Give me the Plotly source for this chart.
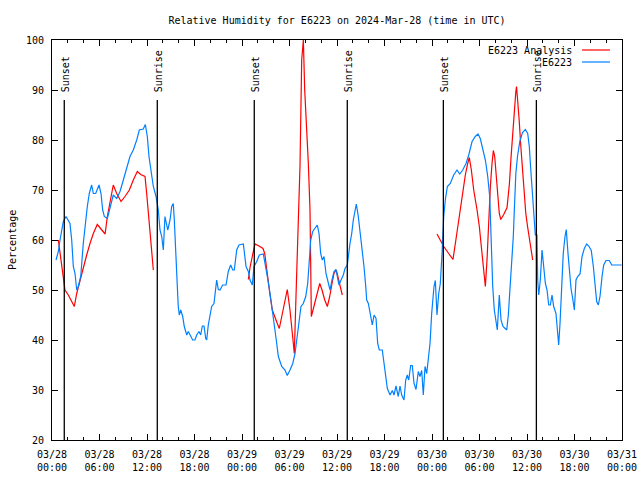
import pandas as pd
import plotly.graph_objects as go

# ---------------- data ----------------
START = "2024-03-28 00:00"
END = "2024-03-31 00:00"

# E6223 observations: hours since START, relative humidity (%)
obs_hours = [0.51, 0.80, 1.01, 1.43, 1.77, 2.27, 2.49, 2.69, 2.91, 3.12, 3.32, 3.63, 3.95, 4.17,
             4.46, 4.71, 5.01, 5.22, 5.52, 5.94, 6.19, 6.40, 6.61, 6.99, 7.33, 7.74, 8.17, 8.59,
             9.01, 9.44, 9.85, 10.27, 10.70, 11.03, 11.53, 11.79, 12.04, 12.25, 12.51, 12.80,
             13.14, 13.43, 13.64, 13.86, 14.06, 14.27, 14.62, 14.91, 15.12, 15.32, 15.45, 15.66,
             15.83, 15.95, 16.08, 16.26, 16.51, 16.71, 17.02, 17.22, 17.52, 17.77, 18.06, 18.28,
             18.57, 18.78, 18.99, 19.20, 19.42, 19.54, 19.74, 19.96, 20.17, 20.46, 20.68, 20.80,
             21.01, 21.22, 21.56, 21.98, 22.27, 22.57, 22.83, 23.03, 23.33, 23.62, 24.17, 24.29,
             24.51, 24.80, 25.01, 25.30, 25.52, 25.86, 26.19, 26.69, 27.00, 27.20, 27.54, 27.83,
             28.13, 28.33, 28.59, 29.02, 29.43, 29.72, 30.06, 30.41, 30.70, 30.91, 31.24, 31.45,
             31.74, 32.05, 32.30, 32.46, 32.68, 32.93, 33.22, 33.51, 33.73, 33.94, 34.14, 34.36,
             34.61, 34.90, 35.12, 35.37, 35.62, 35.87, 36.09, 36.25, 36.51, 36.80, 37.01, 37.30,
             37.64, 37.86, 38.06, 38.28, 38.44, 38.69, 39.00, 39.25, 39.41, 39.63, 39.75, 39.96,
             40.26, 40.46, 40.68, 40.93, 41.14, 41.34, 41.72, 41.94, 42.15, 42.36, 42.70, 42.99,
             43.20, 43.45, 43.74, 43.96, 44.17, 44.46, 44.68, 44.88, 45.06, 45.31, 45.51, 45.73,
             45.98, 46.27, 46.48, 46.70, 46.90, 47.12, 47.33, 47.53, 47.75, 47.96, 48.25, 48.42,
             48.63, 48.85, 49.05, 49.27, 49.48, 49.68, 49.94, 50.31, 50.74, 51.16, 51.50, 51.88,
             52.30, 52.64, 53.06, 53.47, 53.81, 54.10, 54.41, 54.74, 55.04, 55.29, 55.46, 55.67,
             55.87, 56.09, 56.25, 56.50, 56.72, 56.97, 57.26, 57.44, 57.64, 57.86, 58.07, 58.27,
             58.40, 58.59, 58.80, 59.09, 59.43, 59.79, 60.09, 60.29, 60.51, 60.72, 60.92, 61.05,
             61.26, 61.35, 61.48, 61.68, 61.90, 62.07, 62.32, 62.53, 62.74, 62.95, 63.16, 63.37,
             63.66, 63.88, 64.00, 64.17, 64.38, 64.58, 64.80, 64.96, 65.18, 65.35, 65.56, 65.77,
             65.98, 66.19, 66.40, 66.70, 66.95, 67.24, 67.54, 67.80, 68.12, 68.38, 68.59, 68.80,
             69.01, 69.22, 69.48, 69.69, 69.98, 70.40, 70.70, 71.96]
obs_rh = [56, 57.7, 60, 63.7, 64.7, 63.3, 60, 54.7, 53.3, 50, 50.7, 52.7, 59.3, 62.7,
          66.7, 69.3, 71, 69.3, 69.3, 71, 69.3, 66, 64.7, 64.3, 66.7, 69, 68.3, 69.7,
          72, 74.7, 76.7, 78, 80, 82, 82.2, 83.1, 80.7, 76.7, 73.3, 70.7,
          68.7, 66, 62, 60.7, 58, 64.7, 62, 64, 66.7, 67.3, 64, 58,
          50.7, 46.7, 45, 46, 44.7, 42.7, 41, 41.7, 40.7, 40, 40, 41,
          41.7, 41, 42.8, 42.8, 40.3, 40, 43, 45.3, 46.7, 47.3, 51.3, 52,
          50.1, 50, 51, 51, 53.7, 55, 54, 54, 58, 59, 59.2, 57.3,
          54.7, 53.7, 52, 51, 54.7, 55.7, 57, 57.2, 54.7, 52.7, 49.3, 46,
          43.3, 40, 36.7, 34.7, 34, 32.9, 34, 35.3, 37.3, 40, 43.3, 46.7,
          47.3, 48.7, 51.3, 54.7, 60, 61.7, 62.3, 63, 61.3, 57.3, 56, 56.7,
          53.3, 51, 50, 52, 53.7, 54.1, 52, 51, 52, 53, 54.3, 55,
          59.3, 61.3, 64, 66.3, 67.2, 64.7, 60.7, 58, 54.7, 50.7, 48, 47.3,
          44.7, 43, 45, 44.3, 39.3, 38, 38, 35.3, 32.7, 30.3, 29, 29.9,
          29, 30.8, 28.7, 30.8, 29, 28, 32, 33, 32, 34.9, 34.9, 31.3,
          30.1, 33.7, 32.7, 33.9, 29, 34.7, 33.3, 36.3, 39.3, 45.3, 50.7, 51.9,
          45, 49.3, 51.3, 57.3, 64.7, 68, 70.7, 71.3, 73, 74, 73.2, 74,
          75.3, 77, 79.7, 80.7, 81.2, 80.3, 78.3, 76, 72.7, 68.7, 60.7, 50.7,
          46, 43.3, 42, 49, 44, 42.7, 42.3, 42, 45, 50.3, 55.3, 60.7,
          66, 73.3, 76.7, 79.7, 81.5, 82.1, 81.3, 78.7, 73.3, 68, 64, 61,
          61, 52, 49, 52, 58, 54.7, 51.3, 50, 47, 47, 49, 46.7,
          45.3, 41.3, 39, 43.3, 50, 57.3, 60.7, 62.1, 57.3, 53.3, 50.3, 48.3,
          46, 52, 52.7, 53.2, 56.7, 58.3, 59.2, 58.8, 57.9, 54.7, 50.3, 47.7,
          47, 48.7, 52.7, 55, 55.9, 55.9, 55, 55]

# E6223 Analysis: hours since START, RH (%); None marks a gap
ana_hours = [0.80, 1.01, 1.35, 1.64, 2.06, 2.49, 2.82, 3.12, 3.54, 3.95, 4.38, 4.80, 5.22, 5.72,
             6.15, 6.71, 6.99, 7.33, 7.74, 8.17, 8.72, 9.22, 9.77, 10.27, 10.78, 11.20, 11.75,
             11.96, 12.16, 12.38, 12.59, 12.80,
             None,
             24.80, 25.01, 25.30, 25.52, 25.64, 26.15, 26.65, 26.87, 27.07, 27.29, 27.54, 27.83,
             28.17, 28.46, 28.71, 29.02, 29.31, 29.72, 30.06, 30.36, 30.61, 30.82, 31.08, 31.33,
             31.54, 31.75, 31.92, 32.17, 32.38, 32.59, 32.76, 32.97, 33.18, 33.51, 33.82, 34.11,
             34.45, 34.78, 35.08, 35.37, 35.62, 35.91, 36.21, 36.47, 36.67,
             None,
             48.63, 49.05, 49.48, 50.11, 50.65, 50.95, 51.29, 51.58, 51.92, 52.21, 52.51, 52.71,
             52.97, 53.27, 53.69, 53.98, 54.23, 54.45, 54.66, 54.74, 54.95, 55.17, 55.37, 55.58,
             55.75, 55.92, 56.09, 56.34, 56.50, 56.68, 57.06, 57.48, 57.78, 57.99, 58.20, 58.40,
             58.59, 58.68, 58.80, 59.01, 59.22, 59.43, 59.64, 59.85, 60.07, 60.27, 60.48, 60.72]
ana_rh = [60, 57.3, 53.3, 50, 49, 47.7, 46.7, 49.3, 52, 54.7, 57, 59.3, 61.3, 63.1,
          62.3, 61.2, 64.7, 67.3, 71, 69.3, 67.7, 68.7, 70, 72, 73.7, 73.1, 72.7,
          69.3, 65.3, 61.3, 57.3, 54,
          None,
          52.1, 54.5, 56.7, 58.7, 59.2, 58.8, 58.3, 57.3, 54.7, 51.7, 49, 46,
          44.3, 43.3, 42.3, 44.7, 47.3, 50.1, 46, 41, 37.3, 48.7, 64.7, 75,
          96, 100, 90, 82.7, 75.3, 66, 44.7, 46, 47.3, 49.3, 51.3, 50,
          48, 46.7, 48.7, 51.3, 53.3, 54, 52, 50.3, 49,
          None,
          61.2, 60, 58.7, 57.3, 56.1, 59.3, 63.3, 66.7, 70, 73, 75.3, 76.5,
          74, 70, 66, 62.7, 58.7, 55.3, 52, 50.7, 56, 64.7, 70.7, 75.3,
          77.9, 76.7, 72.7, 68, 65.3, 64.1, 65.1, 66.5, 71.3, 76.7, 82, 86,
          89.7, 90.7, 88.7, 84, 78.7, 74, 69.3, 65.3, 62.7, 60.7, 58.3, 56]

# Sun events (UTC)
sun_labels = ["Sunset", "Sunrise", "Sunset", "Sunrise", "Sunset", "Sunrise"]
sun_times = ["2024-03-28 01:33", "2024-03-28 13:18", "2024-03-29 01:33",
             "2024-03-29 13:18", "2024-03-30 01:26", "2024-03-30 13:11"]
sun_line_top = 88

tick_times = pd.date_range(START, END, freq="6h")
tick_text = [t.strftime("%m/%d") + "<br>" + t.strftime("%H:%M") for t in tick_times]
y_ticks = [20, 30, 40, 50, 60, 70, 80, 90, 100]

title_text = "Relative Humidity for E6223 on 2024-Mar-28 (time in UTC)"
series_names = ["E6223 Analysis", "E6223"]
series_colors = ["#ff0000", "#0080ff"]

# ---------------- build ----------------
base = pd.Timestamp(START)
def to_time(h):
    return None if h is None else base + pd.Timedelta(hours=h)

FONT = "DejaVu Sans Mono"

fig = go.Figure()
fig.add_trace(go.Scatter(x=[to_time(h) for h in ana_hours], y=ana_rh, mode="lines",
                         name=series_names[0], connectgaps=False,
                         line=dict(color=series_colors[0], width=1.2), showlegend=False))
fig.add_trace(go.Scatter(x=[to_time(h) for h in obs_hours], y=obs_rh, mode="lines",
                         name=series_names[1],
                         line=dict(color=series_colors[1], width=1.2), showlegend=False))

for lab, t in zip(sun_labels, sun_times):
    fig.add_shape(type="line", x0=t, x1=t, y0=20, y1=sun_line_top, xref="x", yref="y",
                  line=dict(color="black", width=1.3))
    fig.add_annotation(x=t, y=sun_line_top, xref="x", yref="y", text=lab, textangle=-90,
                       showarrow=False, xanchor="center", yanchor="bottom", yshift=6,
                       xshift=1, font=dict(family=FONT, size=10, color="black"))

# manual gnuplot-style key (text left, sample right)
key_rows = [0.975, 0.945]
for name, color, yk in zip(series_names, series_colors, key_rows):
    fig.add_annotation(x=0.9158, y=yk, xref="paper", yref="paper", text=name,
                       showarrow=False, xanchor="right", yanchor="middle",
                       font=dict(family=FONT, size=10, color="black"))
    fig.add_shape(type="line", x0=0.9298, x1=0.9789, y0=yk, y1=yk, xref="paper",
                  yref="paper", line=dict(color=color, width=1.2))

fig.add_annotation(x=-0.0702, y=0.5, xref="paper", yref="paper", text="Percentage",
                   textangle=-90, showarrow=False, xanchor="center", yanchor="middle",
                   font=dict(family=FONT, size=10, color="black"))

fig.update_layout(
    width=640, height=480,
    margin=dict(l=52, r=18, t=40, b=40, autoexpand=False),
    paper_bgcolor="white", plot_bgcolor="white",
    font=dict(family=FONT, size=10, color="black"),
    title=dict(text=title_text, x=0.5, xref="paper", y=1 - 20 / 480, yanchor="middle",
               font=dict(family=FONT, size=10, color="black")),
    showlegend=False,
)
fig.update_xaxes(type="date", range=[START, END], tickvals=list(tick_times), ticktext=tick_text,
                 ticks="inside", ticklen=6, tickcolor="black", tickwidth=1,
                 showline=True, linecolor="black", linewidth=1, mirror="ticks",
                 showgrid=False, zeroline=False, ticklabelstandoff=5, automargin=False,
                 ticklabeloverflow="allow",
                 minor=dict(ticks="inside", ticklen=3, dtick=2 * 3600 * 1000,
                            tick0=START, tickcolor="black", showgrid=False))
fig.update_yaxes(range=[20, 100], tickvals=y_ticks, ticks="inside", ticklen=6,
                 tickcolor="black", tickwidth=1, showline=True, linecolor="black",
                 linewidth=1, mirror="ticks", showgrid=False, zeroline=False,
                 ticklabelstandoff=5, automargin=False)

# remove the default page margin so the 640x480 figure fills the window exactly
fig.write_html("out.html",
               config={"displayModeBar": False, "staticPlot": True},
               post_script="document.body.style.margin='0';"
                           "document.body.style.overflow='hidden';")
